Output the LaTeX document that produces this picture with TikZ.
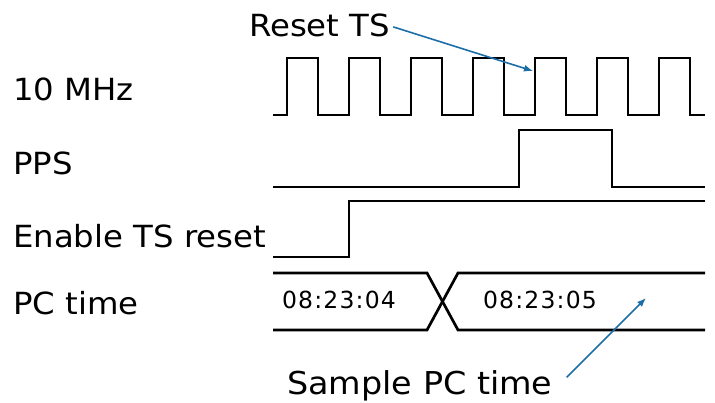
\documentclass[tikz,border=0pt]{standalone}
\usepackage{fontspec}
\setmainfont[FakeStretch=1.06]{DejaVu Sans}
\newfontfamily\busfont[LetterSpace=5]{DejaVu Sans}
\usetikzlibrary{arrows.meta}
\definecolor{pointblue}{RGB}{28,110,168}
\tikzset{
	wave/.style={line width=2.7pt, line join=miter},
	siglabel/.style={anchor=base west, inner sep=0pt, font=\fontsize{30.5}{36}\selectfont},
	buslabel/.style={anchor=base, inner sep=0pt, font=\busfont\fontsize{23.5}{28}\selectfont},
	pointer/.style={draw=pointblue, line width=1.6pt, -{Latex[length=9pt,width=7pt]}}
}

\begin{document}
\begin{tikzpicture}[x=1pt,y=-1pt]
		\useasboundingbox (0,0) rectangle (715,403);
		% signal names
		\node[siglabel] (clk) at (13,101) {10 MHz};
		\node[siglabel] (pps) at (13,175) {PPS};
		\node[siglabel] (ena) at (13,248) {Enable TS reset};
		\node[siglabel] (pct) at (13,315) {PC time};
		% 10 MHz clock
		\draw[wave] (273,115) \foreach \k in {0,...,6}{
			-- (287+62*\k,115) -- (287+62*\k,58) -- (318+62*\k,58) -- (318+62*\k,115)} -- (705,115);
		% PPS
		\draw[wave] (273,187) -- (519,187) -- (519,130) -- (612,130) -- (612,187) -- (705,187);
		% enable
		\draw[wave] (273,257) -- (349,257) -- (349,201) -- (705,201);
		% PC time bus
		\draw[wave] (273,273) -- (427,273) -- (458,330) -- (705,330);
		\draw[wave] (273,330) -- (427,330) -- (458,273) -- (705,273);
		\node[buslabel] (told) at (339,309) {08:23:04};
		\node[buslabel] (tnew) at (540,309) {08:23:05};
		% pointers
		\node[siglabel] (rst) at (249,37) {Reset TS};
		\coordinate (rstedge) at (533,71);
		\draw[pointer] (rst.east) ++(3,1) -- (rstedge);
		\node[siglabel, font=\fontsize{31.5}{38}\selectfont] (smp) at (287,394) {Sample PC time};
		\coordinate (smppt) at (646,298);
		\draw[pointer] (smp.east) ++(14,-8) -- (smppt);
		\end{tikzpicture}
\end{document}
